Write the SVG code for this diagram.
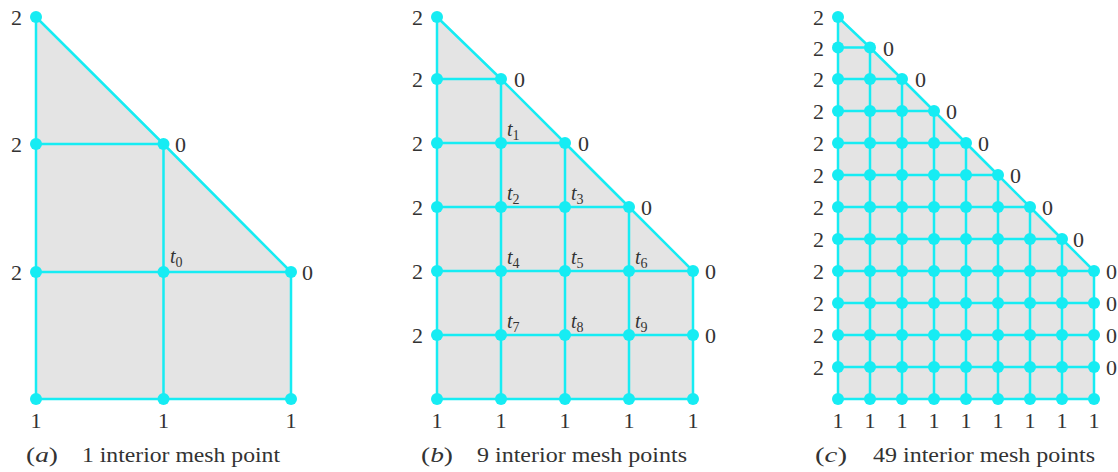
<svg xmlns="http://www.w3.org/2000/svg" xmlns:xlink="http://www.w3.org/1999/xlink" width="1118" height="472" viewBox="0 0 1118 472">
<style>
.bg{fill:#ffffff}
.area{fill:#e4e4e4;stroke:none}
.ln{stroke:#16ecf3;stroke-width:2.5;fill:none;stroke-linecap:round;stroke-linejoin:round}
.dot{fill:#16ecf3}
.lb{font-family:"Liberation Serif","Times New Roman",serif;font-size:22px;fill:#333333}
.e{text-anchor:end}
.m{text-anchor:middle}
.t{font-style:italic;font-size:20px}
.sub{font-style:normal;font-size:14px}
.cap{font-size:21px}
.it{font-style:italic}
</style>
<defs>
<circle id="d" class="dot" cx="0" cy="0" r="6"/>
<g id="row9">
<use href="#d" x="0"/><use href="#d" x="32"/><use href="#d" x="64"/><use href="#d" x="96"/><use href="#d" x="128"/><use href="#d" x="160"/><use href="#d" x="192"/><use href="#d" x="224"/><use href="#d" x="256"/>
</g>
<g id="row5">
<use href="#d" x="0"/><use href="#d" x="64"/><use href="#d" x="128"/><use href="#d" x="192"/><use href="#d" x="256"/>
</g>
</defs>
<rect class="bg" x="0" y="0" width="1118" height="472"/>

<!-- Panel (a) -->
<g id="panel-a">
<polygon class="area" points="36,17 163.5,144 291,272 291,399 36,399"/>
<g id="connectors-a" class="ln">
<polyline points="36,17 163.5,144 291,272"/>
<line x1="36" y1="144" x2="163.5" y2="144"/>
<line x1="36" y1="272" x2="291" y2="272"/>
<line x1="36" y1="399" x2="291" y2="399"/>
<line x1="36" y1="17" x2="36" y2="399"/>
<line x1="163.5" y1="144" x2="163.5" y2="399"/>
<line x1="291" y1="272" x2="291" y2="399"/>
</g>
<g id="points-a">
<use href="#d" x="36" y="17"/>
<use href="#d" x="36" y="144"/><use href="#d" x="163.5" y="144"/>
<use href="#d" x="36" y="272"/><use href="#d" x="163.5" y="272"/><use href="#d" x="291" y="272"/>
<use href="#d" x="36" y="399"/><use href="#d" x="163.5" y="399"/><use href="#d" x="291" y="399"/>
</g>
<g id="labels-a" class="lb">
<text class="e" x="22" y="25">2</text>
<text class="e" x="22" y="152">2</text>
<text class="e" x="22" y="280">2</text>
<text x="175" y="152">0</text>
<text x="302" y="280">0</text>
<text class="m" x="36" y="428">1</text>
<text class="m" x="163.5" y="428">1</text>
<text class="m" x="291" y="428">1</text>
<text class="t" x="170" y="263">t<tspan class="sub" dy="4">0</tspan></text>
<text class="cap" x="26" y="462" textLength="32" lengthAdjust="spacingAndGlyphs">(<tspan class="it">a</tspan>)</text>
<text class="cap" x="82" y="462" textLength="198" lengthAdjust="spacingAndGlyphs">1 interior mesh point</text>
</g>
</g>

<!-- Panel (b) -->
<g id="panel-b">
<polygon class="area" points="437,17 501,79 565,143 629,207 693,271 693,399 437,399"/>
<g id="connectors-b" class="ln">
<polyline points="437,17 501,79 565,143 629,207 693,271"/>
<line x1="437" y1="79" x2="501" y2="79"/>
<line x1="437" y1="143" x2="565" y2="143"/>
<line x1="437" y1="207" x2="629" y2="207"/>
<line x1="437" y1="271" x2="693" y2="271"/>
<line x1="437" y1="335" x2="693" y2="335"/>
<line x1="437" y1="399" x2="693" y2="399"/>
<line x1="437" y1="17" x2="437" y2="399"/>
<line x1="501" y1="79" x2="501" y2="399"/>
<line x1="565" y1="143" x2="565" y2="399"/>
<line x1="629" y1="207" x2="629" y2="399"/>
<line x1="693" y1="271" x2="693" y2="399"/>
</g>
<g id="points-b">
<use href="#d" x="437" y="17"/>
<use href="#d" x="437" y="79"/><use href="#d" x="501" y="79"/>
<use href="#d" x="437" y="143"/><use href="#d" x="501" y="143"/><use href="#d" x="565" y="143"/>
<use href="#d" x="437" y="207"/><use href="#d" x="501" y="207"/><use href="#d" x="565" y="207"/><use href="#d" x="629" y="207"/>
<use href="#row5" x="437" y="271"/>
<use href="#row5" x="437" y="335"/>
<use href="#row5" x="437" y="399"/>
</g>
<g id="labels-b" class="lb">
<text class="e" x="423" y="25">2</text>
<text class="e" x="423" y="87">2</text>
<text class="e" x="423" y="151">2</text>
<text class="e" x="423" y="215">2</text>
<text class="e" x="423" y="279">2</text>
<text class="e" x="423" y="343">2</text>
<text x="514" y="87">0</text>
<text x="578" y="151">0</text>
<text x="641" y="215">0</text>
<text x="705" y="279">0</text>
<text x="705" y="343">0</text>
<text class="m" x="437" y="428">1</text>
<text class="m" x="501" y="428">1</text>
<text class="m" x="565" y="428">1</text>
<text class="m" x="629" y="428">1</text>
<text class="m" x="693" y="428">1</text>
<text class="t" x="507" y="136">t<tspan class="sub" dy="4">1</tspan></text>
<text class="t" x="507" y="200">t<tspan class="sub" dy="4">2</tspan></text>
<text class="t" x="571" y="200">t<tspan class="sub" dy="4">3</tspan></text>
<text class="t" x="507" y="264">t<tspan class="sub" dy="4">4</tspan></text>
<text class="t" x="571" y="264">t<tspan class="sub" dy="4">5</tspan></text>
<text class="t" x="635" y="264">t<tspan class="sub" dy="4">6</tspan></text>
<text class="t" x="507" y="328">t<tspan class="sub" dy="4">7</tspan></text>
<text class="t" x="571" y="328">t<tspan class="sub" dy="4">8</tspan></text>
<text class="t" x="635" y="328">t<tspan class="sub" dy="4">9</tspan></text>
<text class="cap" x="421" y="462" textLength="32" lengthAdjust="spacingAndGlyphs">(<tspan class="it">b</tspan>)</text>
<text class="cap" x="477" y="462" textLength="210" lengthAdjust="spacingAndGlyphs">9 interior mesh points</text>
</g>
</g>

<!-- Panel (c) -->
<g id="panel-c">
<polygon class="area" points="838,17 870,47.5 902,79 934,111 966,143 998,175 1030,207 1062,239 1094,271 1094,399 838,399"/>
<g id="connectors-c" class="ln">
<polyline points="838,17 870,47.5 902,79 934,111 966,143 998,175 1030,207 1062,239 1094,271"/>
<line x1="838" y1="47.5" x2="870" y2="47.5"/>
<line x1="838" y1="79" x2="902" y2="79"/>
<line x1="838" y1="111" x2="934" y2="111"/>
<line x1="838" y1="143" x2="966" y2="143"/>
<line x1="838" y1="175" x2="998" y2="175"/>
<line x1="838" y1="207" x2="1030" y2="207"/>
<line x1="838" y1="239" x2="1062" y2="239"/>
<line x1="838" y1="271" x2="1094" y2="271"/>
<line x1="838" y1="303" x2="1094" y2="303"/>
<line x1="838" y1="335" x2="1094" y2="335"/>
<line x1="838" y1="367" x2="1094" y2="367"/>
<line x1="838" y1="399" x2="1094" y2="399"/>
<line x1="838" y1="17" x2="838" y2="399"/>
<line x1="870" y1="47.5" x2="870" y2="399"/>
<line x1="902" y1="79" x2="902" y2="399"/>
<line x1="934" y1="111" x2="934" y2="399"/>
<line x1="966" y1="143" x2="966" y2="399"/>
<line x1="998" y1="175" x2="998" y2="399"/>
<line x1="1030" y1="207" x2="1030" y2="399"/>
<line x1="1062" y1="239" x2="1062" y2="399"/>
<line x1="1094" y1="271" x2="1094" y2="399"/>
</g>
<g id="points-c">
<use href="#d" x="838" y="17"/>
<use href="#d" x="838" y="47.5"/><use href="#d" x="870" y="47.5"/>
<use href="#d" x="838" y="79"/><use href="#d" x="870" y="79"/><use href="#d" x="902" y="79"/>
<use href="#d" x="838" y="111"/><use href="#d" x="870" y="111"/><use href="#d" x="902" y="111"/><use href="#d" x="934" y="111"/>
<use href="#d" x="838" y="143"/><use href="#d" x="870" y="143"/><use href="#d" x="902" y="143"/><use href="#d" x="934" y="143"/><use href="#d" x="966" y="143"/>
<use href="#d" x="838" y="175"/><use href="#d" x="870" y="175"/><use href="#d" x="902" y="175"/><use href="#d" x="934" y="175"/><use href="#d" x="966" y="175"/><use href="#d" x="998" y="175"/>
<use href="#d" x="838" y="207"/><use href="#d" x="870" y="207"/><use href="#d" x="902" y="207"/><use href="#d" x="934" y="207"/><use href="#d" x="966" y="207"/><use href="#d" x="998" y="207"/><use href="#d" x="1030" y="207"/>
<use href="#d" x="838" y="239"/><use href="#d" x="870" y="239"/><use href="#d" x="902" y="239"/><use href="#d" x="934" y="239"/><use href="#d" x="966" y="239"/><use href="#d" x="998" y="239"/><use href="#d" x="1030" y="239"/><use href="#d" x="1062" y="239"/>
<use href="#row9" x="838" y="271"/>
<use href="#row9" x="838" y="303"/>
<use href="#row9" x="838" y="335"/>
<use href="#row9" x="838" y="367"/>
<use href="#row9" x="838" y="399"/>
</g>
<g id="labels-c" class="lb">
<text class="e" x="824" y="25">2</text>
<text class="e" x="824" y="55.5">2</text>
<text class="e" x="824" y="87">2</text>
<text class="e" x="824" y="119">2</text>
<text class="e" x="824" y="151">2</text>
<text class="e" x="824" y="183">2</text>
<text class="e" x="824" y="215">2</text>
<text class="e" x="824" y="247">2</text>
<text class="e" x="824" y="279">2</text>
<text class="e" x="824" y="311">2</text>
<text class="e" x="824" y="343">2</text>
<text class="e" x="824" y="375">2</text>
<text x="883" y="55.5">0</text>
<text x="915" y="87">0</text>
<text x="946" y="119">0</text>
<text x="978" y="151">0</text>
<text x="1010" y="183">0</text>
<text x="1042" y="215">0</text>
<text x="1073" y="247">0</text>
<text x="1106" y="279">0</text>
<text x="1106" y="311">0</text>
<text x="1106" y="343">0</text>
<text x="1106" y="375">0</text>
<text class="m" x="838" y="428">1</text>
<text class="m" x="870" y="428">1</text>
<text class="m" x="902" y="428">1</text>
<text class="m" x="934" y="428">1</text>
<text class="m" x="966" y="428">1</text>
<text class="m" x="998" y="428">1</text>
<text class="m" x="1030" y="428">1</text>
<text class="m" x="1062" y="428">1</text>
<text class="m" x="1094" y="428">1</text>
<text class="cap" x="815" y="462" textLength="32" lengthAdjust="spacingAndGlyphs">(<tspan class="it">c</tspan>)</text>
<text class="cap" x="873" y="462" textLength="222" lengthAdjust="spacingAndGlyphs">49 interior mesh points</text>
</g>
</g>
</svg>
